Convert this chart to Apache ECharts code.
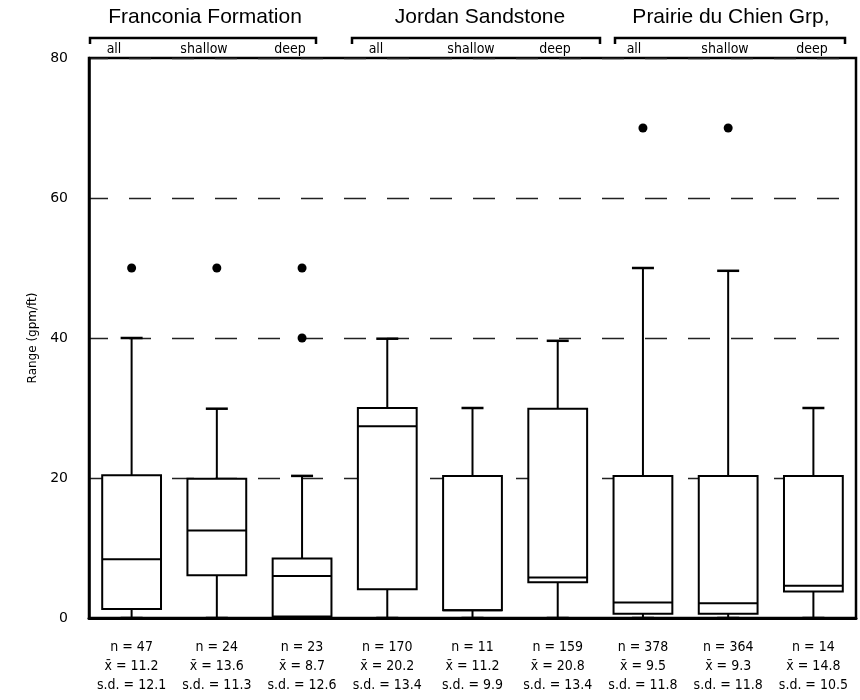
<!DOCTYPE html>
<html>
<head>
<meta charset="utf-8">
<script src="https://cdn.jsdelivr.net/npm/echarts@6/dist/echarts.min.js"></script>
<style>
html,body{margin:0;padding:0;background:#fff;}
#main{width:860px;height:700px;}
</style>
</head>
<body>
<div id="main"></div>
<script>
// ---- data ----
const categories = ['Franconia all','Franconia shallow','Franconia deep','Jordan all','Jordan shallow','Jordan deep','Prairie all','Prairie shallow','Prairie deep'];
const boxMin    = [0, 0, 0, 0, 0, 0, 0, 0, 0];
const boxQ1     = [1.3, 6.1, 0.2, 4.1, 1.1, 5.1, 0.6, 0.6, 3.8];
const boxMedian = [8.4, 12.5, 6.0, 27.4, 1.1, 5.8, 2.2, 2.1, 4.6];
const boxQ3     = [20.4, 19.9, 8.5, 30.0, 20.3, 29.9, 20.3, 20.3, 20.3];
const boxMax    = [40.0, 29.9, 20.3, 39.9, 30.0, 39.6, 50.0, 49.6, 30.0];
const outliers  = [[50], [50], [50, 40], [], [], [], [70], [70], []];
const nCount    = ['47', '24', '23', '170', '11', '159', '378', '364', '14'];
const meanVal   = ['11.2', '13.6', '8.7', '20.2', '11.2', '20.8', '9.5', '9.3', '14.8'];
const sdVal     = ['12.1', '11.3', '12.6', '13.4', '9.9', '13.4', '11.8', '11.8', '10.5'];
const groupTitles = ['Franconia Formation', 'Jordan Sandstone', 'Prairie du Chien Grp,'];
const subLabels = ['all', 'shallow', 'deep'];
const yMin = 0, yMax = 80, yStep = 20;
const yName = 'Range (gpm/ft)';

// ---- layout (annotation positions) ----
const titleX = [205, 480, 731];
const bracketSpans = [[90, 316], [352, 600], [615, 845]];
const subLabelX = [[114, 204, 290], [376, 471, 555], [634, 725, 812]];

const narrow = "'DejaVu Sans Condensed', 'DejaVu Sans', sans-serif";

const boxData = categories.map((c, i) => [i, boxMin[i], boxQ1[i], boxMedian[i], boxQ3[i], boxMax[i]]);
const outlierData = [];
outliers.forEach((arr, i) => arr.forEach(v => outlierData.push([i, v])));

function renderBox(params, api) {
  const i = api.value(0);
  const pMin = api.coord([i, api.value(1)]);
  const pQ1 = api.coord([i, api.value(2)]);
  const pMed = api.coord([i, api.value(3)]);
  const pQ3 = api.coord([i, api.value(4)]);
  const pMax = api.coord([i, api.value(5)]);
  const x = pQ1[0];
  const bw = api.size([1, 0])[0] * 0.69;
  const cw = 22;
  const st = { stroke: '#000', lineWidth: 2, fill: null };
  const capSt = { stroke: '#000', lineWidth: 2.5, fill: null };
  return {
    type: 'group',
    children: [
      { type: 'line', shape: { x1: x, y1: pQ3[1], x2: x, y2: pMax[1] }, style: st },
      { type: 'line', shape: { x1: x - cw / 2, y1: pMax[1], x2: x + cw / 2, y2: pMax[1] }, style: capSt },
      { type: 'line', shape: { x1: x, y1: pQ1[1], x2: x, y2: pMin[1] }, style: st },
      { type: 'line', shape: { x1: x - cw / 2, y1: pMin[1], x2: x + cw / 2, y2: pMin[1] }, style: capSt },
      { type: 'rect', shape: { x: x - bw / 2, y: pQ3[1], width: bw, height: pQ1[1] - pQ3[1] },
        style: { fill: '#fff', stroke: '#000', lineWidth: 2 } },
      { type: 'line', shape: { x1: x - bw / 2, y1: pMed[1], x2: x + bw / 2, y2: pMed[1] }, style: st }
    ]
  };
}

const graphics = [];
groupTitles.forEach((t, g) => {
  graphics.push({
    type: 'text', z: 10,
    style: { text: t, x: titleX[g], y: 17, align: 'center', verticalAlign: 'middle',
      font: "21px 'Liberation Sans', Arial, sans-serif", fill: '#000' }
  });
  const [a, b] = bracketSpans[g];
  graphics.push({
    type: 'polyline', z: 10,
    shape: { points: [[a, 44], [a, 38], [b, 38], [b, 44]] },
    style: { stroke: '#000', lineWidth: 2.5, fill: null }
  });
  subLabels.forEach((s, k) => {
    graphics.push({
      type: 'text', z: 10,
      style: { text: s, x: subLabelX[g][k], y: 49, align: 'center', verticalAlign: 'middle',
        font: "14px " + narrow, fill: '#000' }
    });
  });
});

const chart = echarts.init(document.getElementById('main'), null, { renderer: 'canvas' });
chart.setOption({
  animation: false,
  backgroundColor: '#fff',
  grid: { left: 89, right: 4, top: 58, bottom: 82, show: true, borderColor: '#000', borderWidth: 2.5, backgroundColor: 'transparent' },
  xAxis: {
    type: 'category',
    data: categories,
    axisTick: { show: false },
    axisLine: { show: true, lineStyle: { color: '#000', width: 3 } },
    splitLine: { show: false },
    axisLabel: {
      interval: 0,
      margin: 20,
      lineHeight: 19,
      fontSize: 14,
      color: '#000',
      fontFamily: narrow,
      formatter: (v, idx) => 'n = ' + nCount[idx] + '\nx\u0304 = ' + meanVal[idx] + '\ns.d. = ' + sdVal[idx]
    }
  },
  yAxis: {
    type: 'value',
    min: yMin, max: yMax, interval: yStep,
    name: yName,
    nameLocation: 'middle',
    nameGap: 50,
    nameTextStyle: { fontSize: 12, color: '#000', fontFamily: "'DejaVu Sans', sans-serif" },
    axisLine: { show: true, lineStyle: { color: '#000', width: 2.5 } },
    axisTick: { show: false },
    axisLabel: { margin: 21, fontSize: 14, color: '#000', fontFamily: "'DejaVu Sans', sans-serif" },
    splitLine: { show: true, lineStyle: { color: '#222', width: 1.3, type: [22, 21], dashOffset: 3 } }
  },
  series: [
    {
      type: 'custom',
      renderItem: renderBox,
      data: boxData,
      encode: { x: 0, y: [1, 2, 3, 4, 5] },
      z: 3
    },
    {
      type: 'scatter',
      data: outlierData,
      symbol: 'circle',
      symbolSize: 9,
      itemStyle: { color: '#000', opacity: 1 },
      z: 4
    }
  ],
  graphic: graphics
});
</script>
</body>
</html>
